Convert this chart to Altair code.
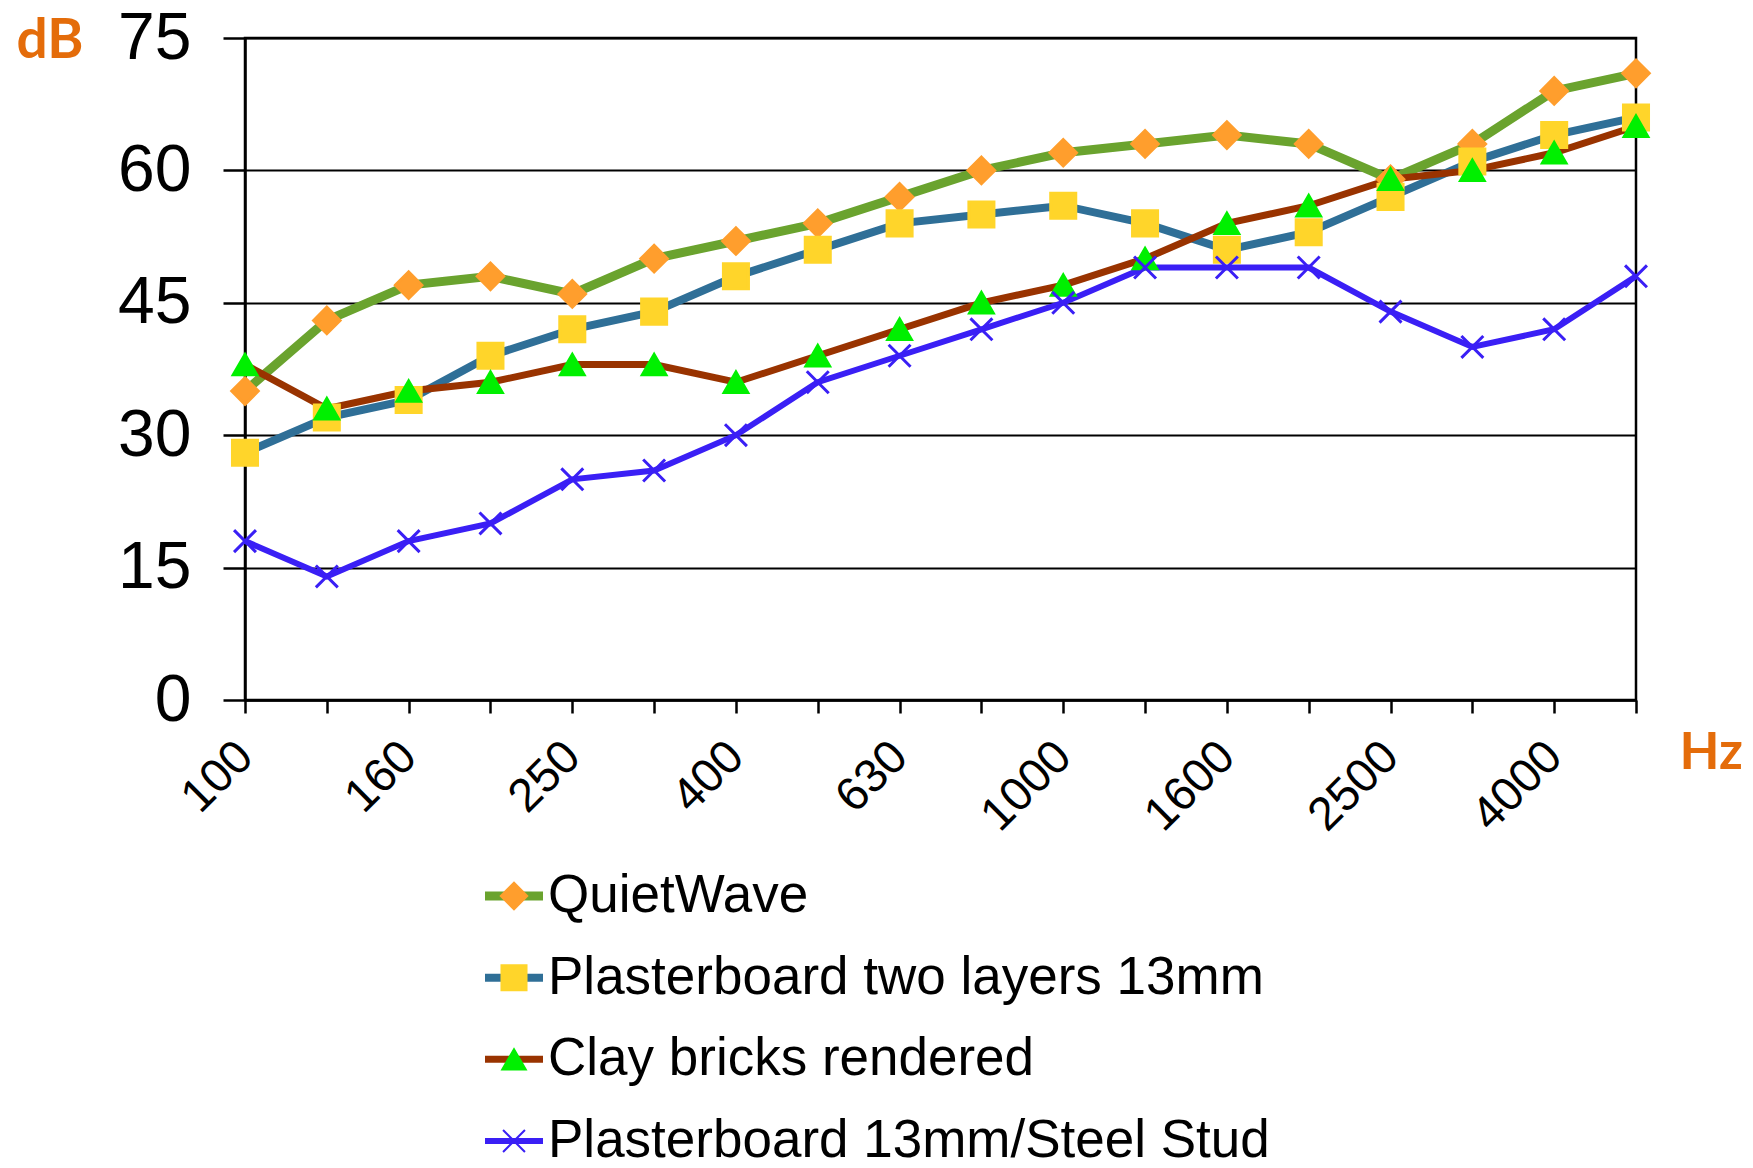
import json
import altair as alt
import pandas as pd

# ---- data ----
freqs = ["100", "125", "160", "200", "250", "315", "400", "500", "630",
         "800", "1000", "1250", "1600", "2000", "2500", "3150", "4000", "5000"]
shown_labels = ["100", "160", "250", "400", "630", "1000", "1600", "2500", "4000"]
series_names = ["QuietWave", "Plasterboard two layers 13mm",
                "Clay bricks rendered", "Plasterboard 13mm/Steel Stud"]
quietwave = [35, 43, 47, 48, 46, 50, 52, 54, 57, 60, 62, 63, 64, 63, 59, 63, 69, 71]
plaster_two = [28, 32, 34, 39, 42, 44, 48, 51, 54, 55, 56, 54, 51, 53, 57, 61, 64, 66]
clay = [38, 33, 35, 36, 38, 38, 36, 39, 42, 45, 47, 50, 54, 56, 59, 60, 62, 65]
steel = [18, 14, 18, 20, 25, 26, 30, 36, 39, 42, 45, 49, 49, 49, 44, 40, 42, 48]
y_ticks = [0, 15, 30, 45, 60, 75]

# ---- styles ----
line_colors = ["#6aa32e", "#2f6f97", "#993300", "#3a1ff5"]
marker_colors = ["#ff9e2d", "#ffd52a", "#00f000", "#3a1ff5"]
marker_shapes = ["diamond", "square", "triangle-up", "M-1,-1L1,1M-1,1L1,-1"]
marker_sizes = [700, 480, 600, 760]
line_widths = [9, 6, 7, 7]

rows = []
for name, vals in zip(series_names, [quietwave, plaster_two, clay, steel]):
    for f, v in zip(freqs, vals):
        rows.append({"series": name, "freq": f, "value": v})
df = pd.DataFrame(rows)
legend_df = pd.DataFrame({"series": series_names})

color_s = alt.Scale(domain=series_names, range=line_colors)
width_s = alt.Scale(domain=series_names, range=line_widths)
fill_s = alt.Scale(domain=series_names, range=marker_colors)
shape_s = alt.Scale(domain=series_names, range=marker_shapes)
size_s = alt.Scale(domain=series_names, range=marker_sizes)

label_expr = ("indexof(" + json.dumps(shown_labels) +
              ", datum.label) >= 0 ? datum.label : ''")

x_enc = alt.X("freq:N", sort=freqs,
              scale=alt.Scale(type="point", padding=0, domain=freqs),
              axis=alt.Axis(labelExpr=label_expr, labelAngle=315,
                            labelAlign="right", labelBaseline="middle",
                            labelPadding=36, labelFontSize=47,
                            labelFont="Liberation Sans", labelColor="black",
                            labelOverlap=False,
                            tickSize=13, tickColor="black", tickWidth=2.5,
                            domainColor="black", domainWidth=2.5, grid=False,
                            title="Hz", titleAngle=0, titleAlign="left",
                            titleBaseline="alphabetic", titleX=1434, titleY=68,
                            titleFont="Lato", titleFontSize=52,
                            titleFontWeight="bold", titleColor="#e46c0a"))

y_scale = alt.Scale(domain=[0, 75], nice=False)
y_axis = alt.Axis(values=y_ticks, grid=True, gridColor="black", gridWidth=2,
                  domainColor="black", domainWidth=2.5,
                  tickColor="black", tickWidth=2.5, tickSize=22,
                  labelFontSize=66, labelFont="Liberation Sans",
                  labelColor="black", labelPadding=32,
                  title="dB", titleAngle=0, titleAlign="left",
                  titleBaseline="alphabetic", titleX=-229, titleY=19,
                  titleFont="Lato", titleFontSize=55, titleFontWeight="bold",
                  titleColor="#e46c0a")

lines = alt.Chart(df).mark_line().encode(
    x=x_enc,
    y=alt.Y("value:Q", scale=y_scale, axis=y_axis),
    color=alt.Color("series:N", scale=color_s, legend=None),
    strokeWidth=alt.StrokeWidth("series:N", scale=width_s, legend=None),
)

points = alt.Chart(df).mark_point(filled=True, strokeWidth=3, opacity=1).encode(
    x=alt.X("freq:N", sort=freqs),
    y=alt.Y("value:Q", scale=y_scale),
    shape=alt.Shape("series:N", scale=shape_s, legend=None),
    fill=alt.Fill("series:N", scale=fill_s, legend=None),
    stroke=alt.Stroke("series:N", scale=fill_s, legend=None),
    size=alt.Size("series:N", scale=size_s, legend=None),
)

main = alt.layer(lines, points)

leg_y = alt.Y("series:N", sort=series_names,
              scale=alt.Scale(type="point", padding=0, domain=series_names,
                              range=[858, 1103]),
              axis=None)

leg_rule = alt.Chart(legend_df).mark_rule().encode(
    x=alt.value(240), x2=alt.value(298), y=leg_y,
    color=alt.Color("series:N", scale=color_s, legend=None),
    strokeWidth=alt.StrokeWidth("series:N", scale=width_s, legend=None),
)
leg_pts = alt.Chart(legend_df).mark_point(filled=True, strokeWidth=2, opacity=1).encode(
    x=alt.value(269), y=leg_y,
    shape=alt.Shape("series:N", scale=shape_s, legend=None),
    fill=alt.Fill("series:N", scale=fill_s, legend=None),
    stroke=alt.Stroke("series:N", scale=fill_s, legend=None),
    size=alt.Size("series:N", scale=size_s, legend=None),
)
leg_text = alt.Chart(legend_df).mark_text(
    align="left", baseline="middle", fontSize=53, font="Liberation Sans",
    color="black").encode(
    x=alt.value(303), y=leg_y, text="series:N")

legend = alt.layer(leg_rule, leg_pts, leg_text)

chart = alt.layer(main, legend).resolve_scale(y="independent").properties(
    width=1391, height=662,
    autosize=alt.AutoSizeParams(type="none"),
    padding={"left": 237, "top": 30, "right": 108, "bottom": 460},
    background="white",
).configure_view(stroke="black", strokeWidth=2.5)

chart.save("out.html", embed_options={"renderer": "svg", "actions": False})
